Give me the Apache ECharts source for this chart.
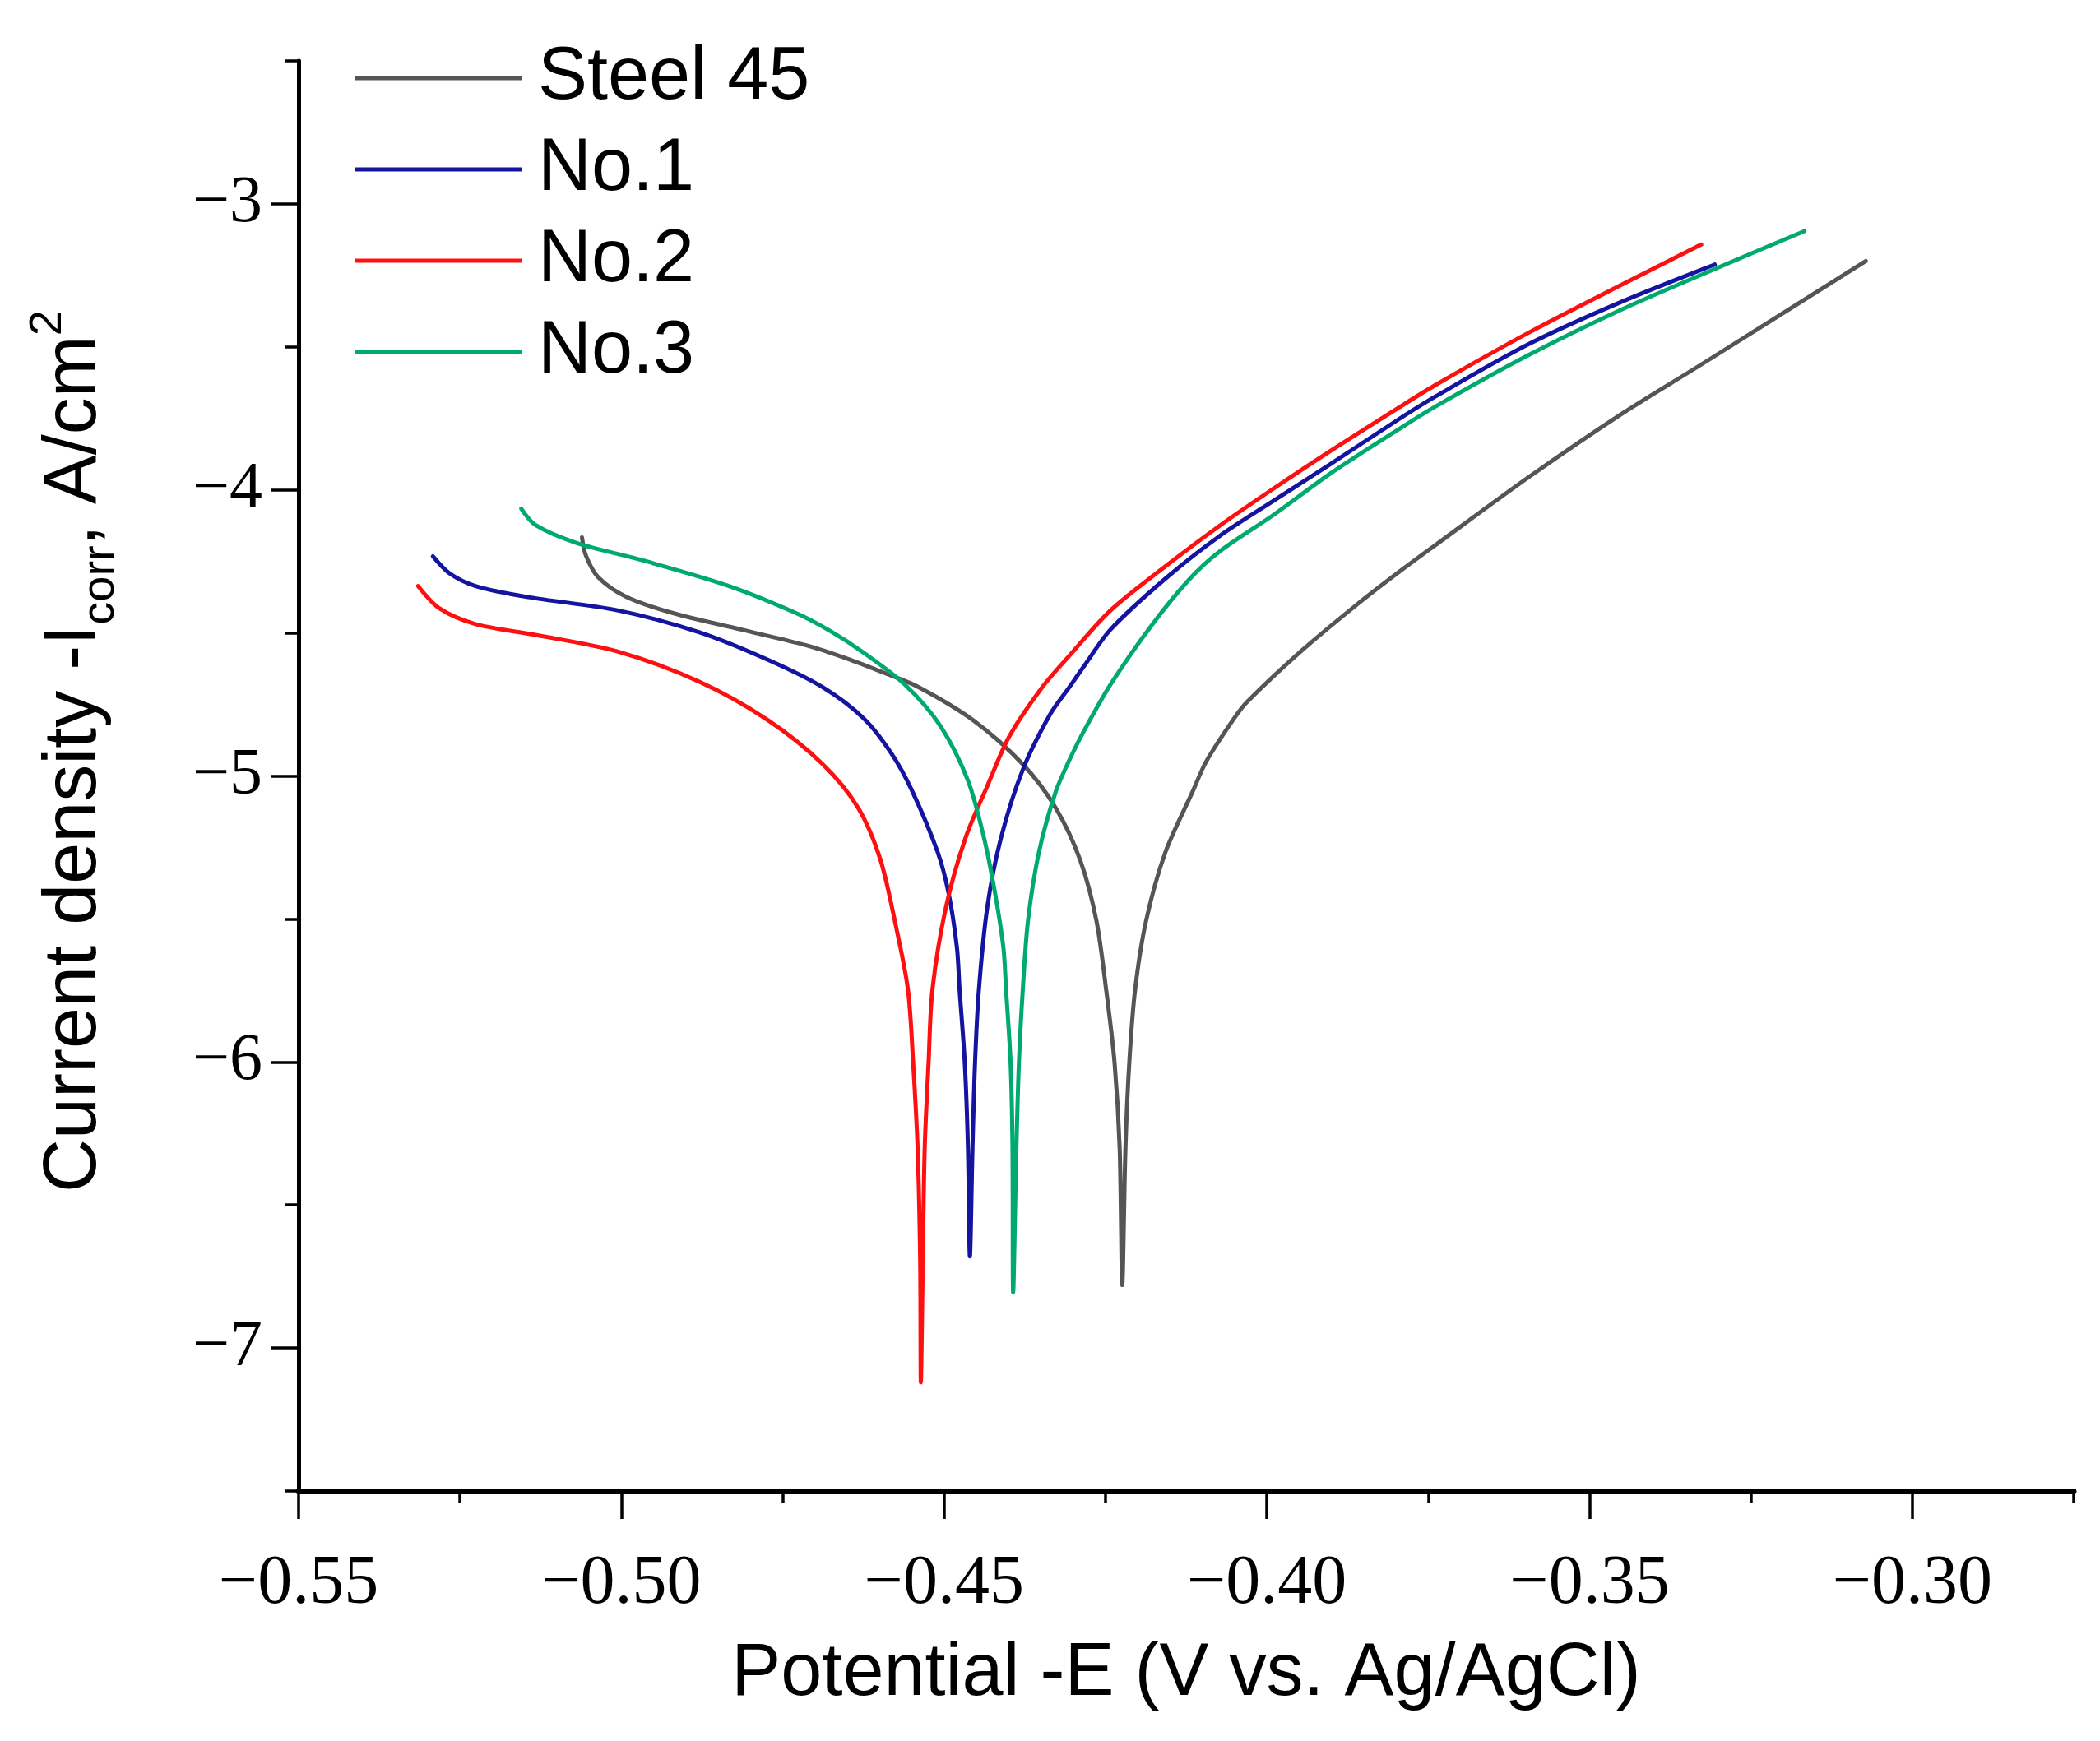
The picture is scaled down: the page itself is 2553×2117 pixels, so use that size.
<!DOCTYPE html>
<html>
<head>
<meta charset="utf-8">
<script src="https://cdn.jsdelivr.net/npm/echarts@6/dist/echarts.min.js"></script>
<style>
html,body{margin:0;padding:0;background:#fff;}
#chart{width:2553px;height:2117px;}
</style>
</head>
<body>
<div id="chart"></div>
<script>
// ---- data (E in V vs Ag/AgCl, log current density) ----
const seriesNames = ['Steel 45', 'No.1', 'No.2', 'No.3'];
const seriesColors = ['#555555', '#1414a0', '#ff1010', '#00aa6e'];

const potentialTicks = [-0.55, -0.50, -0.45, -0.40, -0.35, -0.30];
const potentialMinor = [-0.525, -0.475, -0.425, -0.375, -0.325, -0.275];
const currentTicks = [-7, -6, -5, -4, -3];
const currentMinor = [-7.5, -6.5, -5.5, -4.5, -3.5, -2.5];

const steel45 = [
  [-0.5061,-4.166],[-0.5055,-4.229],[-0.5036,-4.305],[-0.4993,-4.373],[-0.4921,-4.430],
  [-0.4815,-4.488],[-0.4709,-4.546],[-0.4645,-4.594],[-0.4590,-4.642],[-0.4539,-4.690],
  [-0.4455,-4.805],[-0.4378,-4.959],[-0.4327,-5.112],[-0.4289,-5.295],[-0.4264,-5.506],
  [-0.4249,-5.746],[-0.4236,-6.000],[-0.4228,-6.300],[-0.4224,-6.780],[-0.4219,-6.300],
  [-0.4213,-6.000],[-0.4204,-5.746],[-0.4187,-5.506],[-0.4157,-5.266],[-0.4115,-5.055],
  [-0.4094,-4.950],[-0.4051,-4.800],[-0.4030,-4.740],[-0.3945,-4.560],[-0.3860,-4.400],
  [-0.3797,-4.290],[-0.3740,-4.195],[-0.3594,-3.955],[-0.3448,-3.731],[-0.3330,-3.566],
  [-0.3072,-3.200]
];
const no1 = [
  [-0.5292,-4.232],[-0.5266,-4.292],[-0.5226,-4.336],[-0.5144,-4.375],[-0.5006,-4.421],
  [-0.4879,-4.498],[-0.4773,-4.594],[-0.4688,-4.690],[-0.4624,-4.800],[-0.4582,-4.920],
  [-0.4550,-5.050],[-0.4510,-5.266],[-0.4493,-5.410],[-0.4480,-5.602],[-0.4476,-5.746],
  [-0.4468,-6.000],[-0.4463,-6.300],[-0.4460,-6.680],[-0.4456,-6.300],[-0.4452,-6.000],
  [-0.4446,-5.746],[-0.4433,-5.458],[-0.4412,-5.218],[-0.4378,-4.978],[-0.4336,-4.786],
  [-0.4306,-4.690],[-0.4285,-4.622],[-0.4242,-4.488],[-0.4157,-4.310],[-0.4073,-4.161],
  [-0.3988,-4.036],[-0.3903,-3.912],[-0.3797,-3.755],[-0.3740,-3.675],[-0.3594,-3.490],
  [-0.3448,-3.340],[-0.3306,-3.212]
];
const no2 = [
  [-0.5315,-4.336],[-0.5282,-4.414],[-0.5226,-4.469],[-0.5133,-4.507],[-0.5006,-4.565],
  [-0.4879,-4.671],[-0.4773,-4.805],[-0.4688,-4.959],[-0.4633,-5.112],[-0.4599,-5.290],
  [-0.4576,-5.510],[-0.4556,-5.746],[-0.4548,-6.000],[-0.4541,-6.300],[-0.4537,-6.700],
  [-0.4536,-7.120],[-0.4533,-6.700],[-0.4530,-6.300],[-0.4524,-6.000],[-0.4518,-5.746],
  [-0.4497,-5.458],[-0.4467,-5.218],[-0.4433,-5.035],[-0.4399,-4.862],[-0.4348,-4.690],
  [-0.4306,-4.580],[-0.4242,-4.421],[-0.4157,-4.267],[-0.4073,-4.125],[-0.3988,-3.993],
  [-0.3903,-3.866],[-0.3801,-3.720],[-0.3740,-3.635],[-0.3594,-3.450],[-0.3448,-3.280],
  [-0.3327,-3.142]
];
const no3 = [
  [-0.5155,-4.066],[-0.5133,-4.123],[-0.5070,-4.185],[-0.4964,-4.248],[-0.4836,-4.334],
  [-0.4730,-4.430],[-0.4675,-4.495],[-0.4624,-4.570],[-0.4561,-4.680],[-0.4506,-4.824],
  [-0.4463,-5.016],[-0.4438,-5.218],[-0.4421,-5.410],[-0.4408,-5.602],[-0.4404,-5.746],
  [-0.4397,-6.000],[-0.4394,-6.300],[-0.4393,-6.806],[-0.4388,-6.300],[-0.4384,-6.000],
  [-0.4378,-5.746],[-0.4370,-5.506],[-0.4353,-5.266],[-0.4327,-5.055],[-0.4306,-4.945],
  [-0.4285,-4.850],[-0.4242,-4.680],[-0.4179,-4.475],[-0.4119,-4.310],[-0.4073,-4.215],
  [-0.3988,-4.085],[-0.3903,-3.945],[-0.3797,-3.790],[-0.3740,-3.710],[-0.3594,-3.528],
  [-0.3448,-3.367],[-0.3302,-3.224],[-0.3167,-3.095]
];
const allSeries = [steel45, no1, no2, no3];

const serif = 'Liberation Serif';
const sans = 'Liberation Sans';
const fmtX = v => (v < 0 ? '\u2212' : '') + Math.abs(Number(v)).toFixed(2);
const fmtY = v => (v < 0 ? '\u2212' : '') + Math.abs(Number(v));

const chart = echarts.init(document.getElementById('chart'), null, {renderer: 'canvas'});
chart.setOption({
  backgroundColor: '#ffffff',
  animation: false,
  grid: {left: 363, right: 32, top: 74, bottom: 304, containLabel: false},
  legend: {
    orient: 'vertical', left: 426, top: 45,
    icon: 'rect',
    itemWidth: 204, itemHeight: 5, itemGap: 21,
    data: seriesNames,
    textStyle: {fontFamily: sans, fontSize: 90, lineHeight: 90, color: '#000', padding: [0, 0, 0, 14]}
  },
  xAxis: [{
    type: 'value', min: -0.55, max: -0.275, interval: 0.025,
    position: 'bottom',
    name: 'Potential -E (V vs. Ag/AgCl)',
    nameLocation: 'middle', nameGap: 178,
    nameTextStyle: {fontFamily: sans, fontSize: 90, color: '#000'},
    axisLine: {show: true, onZero: false, lineStyle: {color: '#000', width: 7}},
    axisTick: {show: true, inside: false, length: 34, customValues: potentialTicks, lineStyle: {color: '#000', width: 3.5}},
    axisLabel: {show: true, margin: 72, customValues: potentialTicks, fontFamily: serif, fontSize: 84, color: '#000',
      formatter: fmtX},
    splitLine: {show: false}
  }, {
    type: 'value', min: -0.55, max: -0.275, interval: 0.025,
    position: 'bottom', offset: 0,
    axisLine: {show: false, onZero: false},
    axisTick: {show: true, length: 14, customValues: potentialMinor, lineStyle: {color: '#000', width: 3.5}},
    axisLabel: {show: false},
    splitLine: {show: false}
  }],
  yAxis: [{
    type: 'value', min: -7.5, max: -2.5, interval: 0.5,
    position: 'left',
    name: '{a|Current density -I}{b|corr}{a|, A/cm}{c|2}',
    nameLocation: 'middle', nameRotate: 90, nameGap: 212,
    nameTextStyle: {
      fontFamily: sans, fontSize: 90, color: '#000', padding: [0, 0, 0, 60],
      rich: {
        a: {fontFamily: sans, fontSize: 90, lineHeight: 120, verticalAlign: 'middle', color: '#000'},
        b: {fontFamily: sans, fontSize: 56, lineHeight: 56, verticalAlign: 'bottom', color: '#000'},
        c: {fontFamily: sans, fontSize: 56, lineHeight: 56, verticalAlign: 'top', color: '#000'}
      }
    },
    axisLine: {show: true, onZero: false, lineStyle: {color: '#000', width: 5}},
    axisTick: {show: true, length: 34, customValues: currentTicks, lineStyle: {color: '#000', width: 3.5}},
    axisLabel: {show: true, margin: 44, customValues: currentTicks, fontFamily: serif, fontSize: 80, color: '#000',
      formatter: fmtY},
    splitLine: {show: false}
  }, {
    type: 'value', min: -7.5, max: -2.5, interval: 0.5,
    position: 'left', offset: 0,
    axisLine: {show: false, onZero: false},
    axisTick: {show: true, length: 16, customValues: currentMinor, lineStyle: {color: '#000', width: 3.5}},
    axisLabel: {show: false},
    splitLine: {show: false}
  }],
  series: allSeries.map((d, i) => ({
    name: seriesNames[i],
    type: 'line',
    data: d,
    xAxisIndex: 0, yAxisIndex: 0,
    showSymbol: false, symbol: 'none',
    smooth: 0.3,
    color: seriesColors[i],
    itemStyle: {color: seriesColors[i]},
    lineStyle: {color: seriesColors[i], width: 5, join: 'round', cap: 'round'},
    z: 2 + i
  }))
});
</script>
</body>
</html>
